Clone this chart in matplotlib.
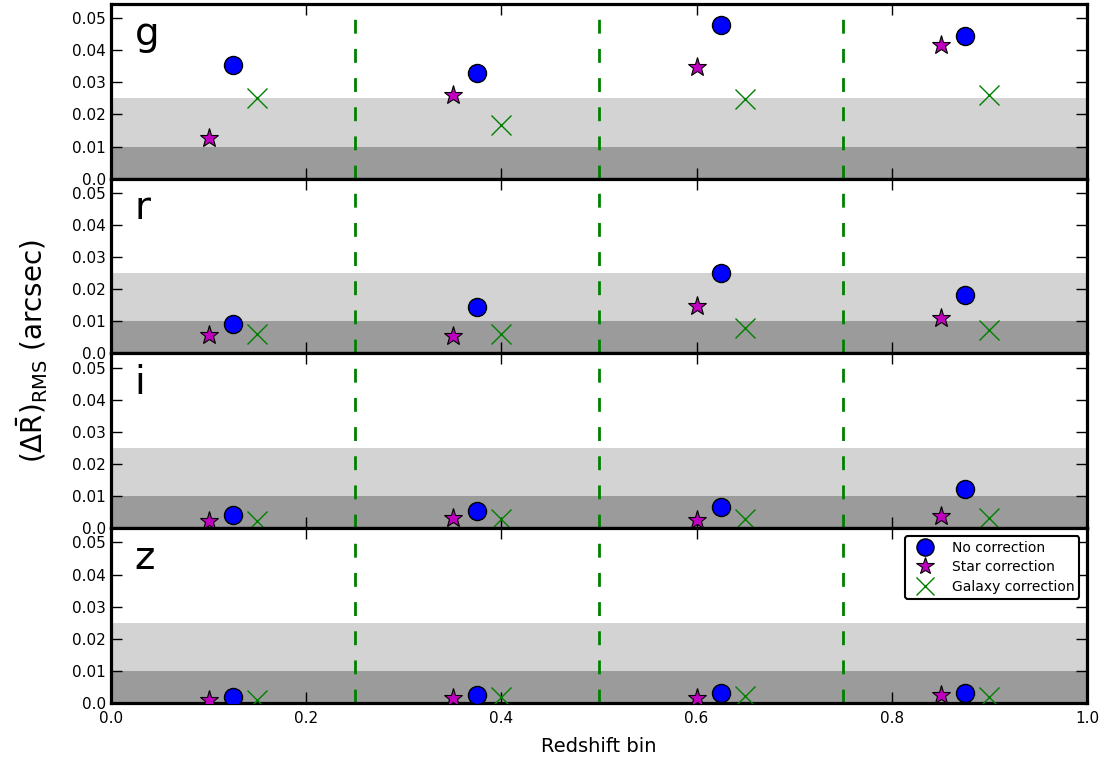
import numpy as np
import matplotlib
matplotlib.use('Agg')
import matplotlib.pyplot as plt
from matplotlib.ticker import FuncFormatter

bands = ['g', 'r', 'i', 'z']
x_star = [0.1, 0.35, 0.6, 0.85]
x_none = [0.125, 0.375, 0.625, 0.875]
x_gal = [0.15, 0.4, 0.65, 0.9]

no_corr = {
    'g': [0.0353, 0.0328, 0.0480, 0.0444],
    'r': [0.0091, 0.0144, 0.0250, 0.0181],
    'i': [0.0041, 0.0053, 0.0066, 0.0122],
    'z': [0.0019, 0.0025, 0.0031, 0.0031],
}
star_corr = {
    'g': [0.0128, 0.0260, 0.0347, 0.0416],
    'r': [0.0059, 0.0056, 0.0147, 0.0112],
    'i': [0.0022, 0.0031, 0.0025, 0.0037],
    'z': [0.0009, 0.0017, 0.0017, 0.0025],
}
gal_corr = {
    'g': [0.0250, 0.0166, 0.0247, 0.0260],
    'r': [0.0062, 0.0062, 0.0078, 0.0072],
    'i': [0.0022, 0.0028, 0.0028, 0.0031],
    'z': [0.0009, 0.0018, 0.0021, 0.0018],
}
bin_edges = [0.25, 0.5, 0.75]


def fmt(v, pos):
    if abs(v) < 1e-9:
        return '0.0'
    return '%.2f' % v


fig, axs = plt.subplots(4, 1, figsize=(11.05, 7.63), dpi=100, sharex=True)
fig.subplots_adjust(left=0.1005, right=0.9837, top=0.9948, bottom=0.0786, hspace=0)

for ax, b in zip(axs, bands):
    ax.axhspan(0, 0.025, color='#d3d3d3', zorder=0, lw=0)
    ax.axhspan(0, 0.01, color='#9b9b9b', zorder=0.5, lw=0)
    for e in bin_edges:
        ax.axvline(e, color='green', ls=(0, (5, 5.5)), lw=2, zorder=1)
    ax.plot(x_none, no_corr[b], 'o', color='blue', mec='black', ms=13, ls='none',
            label='No correction', zorder=3)
    ax.plot(x_star, star_corr[b], '*', color='m', mec='black', ms=14, mew=0.8, ls='none',
            label='Star correction', zorder=3)
    ax.plot(x_gal, gal_corr[b], 'x', color='green', ms=14, mew=1, ls='none',
            label='Galaxy correction', zorder=3)
    ax.set_ylim(0, 0.0544)
    ax.set_xlim(0, 1)
    ax.set_yticks([0, 0.01, 0.02, 0.03, 0.04, 0.05])
    ax.yaxis.set_major_formatter(FuncFormatter(fmt))
    ax.tick_params(direction='in', top=True, right=True, length=8, width=1, labelsize=11)
    for s in ax.spines.values():
        s.set_linewidth(2.3)
    ax.text(0.024, 0.83, b, transform=ax.transAxes, fontsize=28, va='center')

axs[-1].set_xticks([0, 0.2, 0.4, 0.6, 0.8, 1.0])
axs[-1].xaxis.set_major_formatter(FuncFormatter(lambda v, p: '%.1f' % v))
axs[-1].set_xlabel('Redshift bin', fontsize=14, labelpad=8)
axs[-1].tick_params(axis='x', pad=6)

leg = axs[-1].legend(loc='upper right', fontsize=10, numpoints=1, framealpha=1,
                     edgecolor='black', fancybox=True, borderaxespad=0.55,
                     handletextpad=0.8, labelspacing=0.4, markerscale=0.95,
                     handlelength=2.2, borderpad=0.35)
leg.get_frame().set_linewidth(1.5)

fig.text(0.029, 0.54, r'$(\Delta\bar{\mathrm{R}})_{\mathrm{RMS}}$ (arcsec)', rotation=90,
         fontsize=20, va='center', ha='center')

fig.savefig('out.png', dpi=100)
